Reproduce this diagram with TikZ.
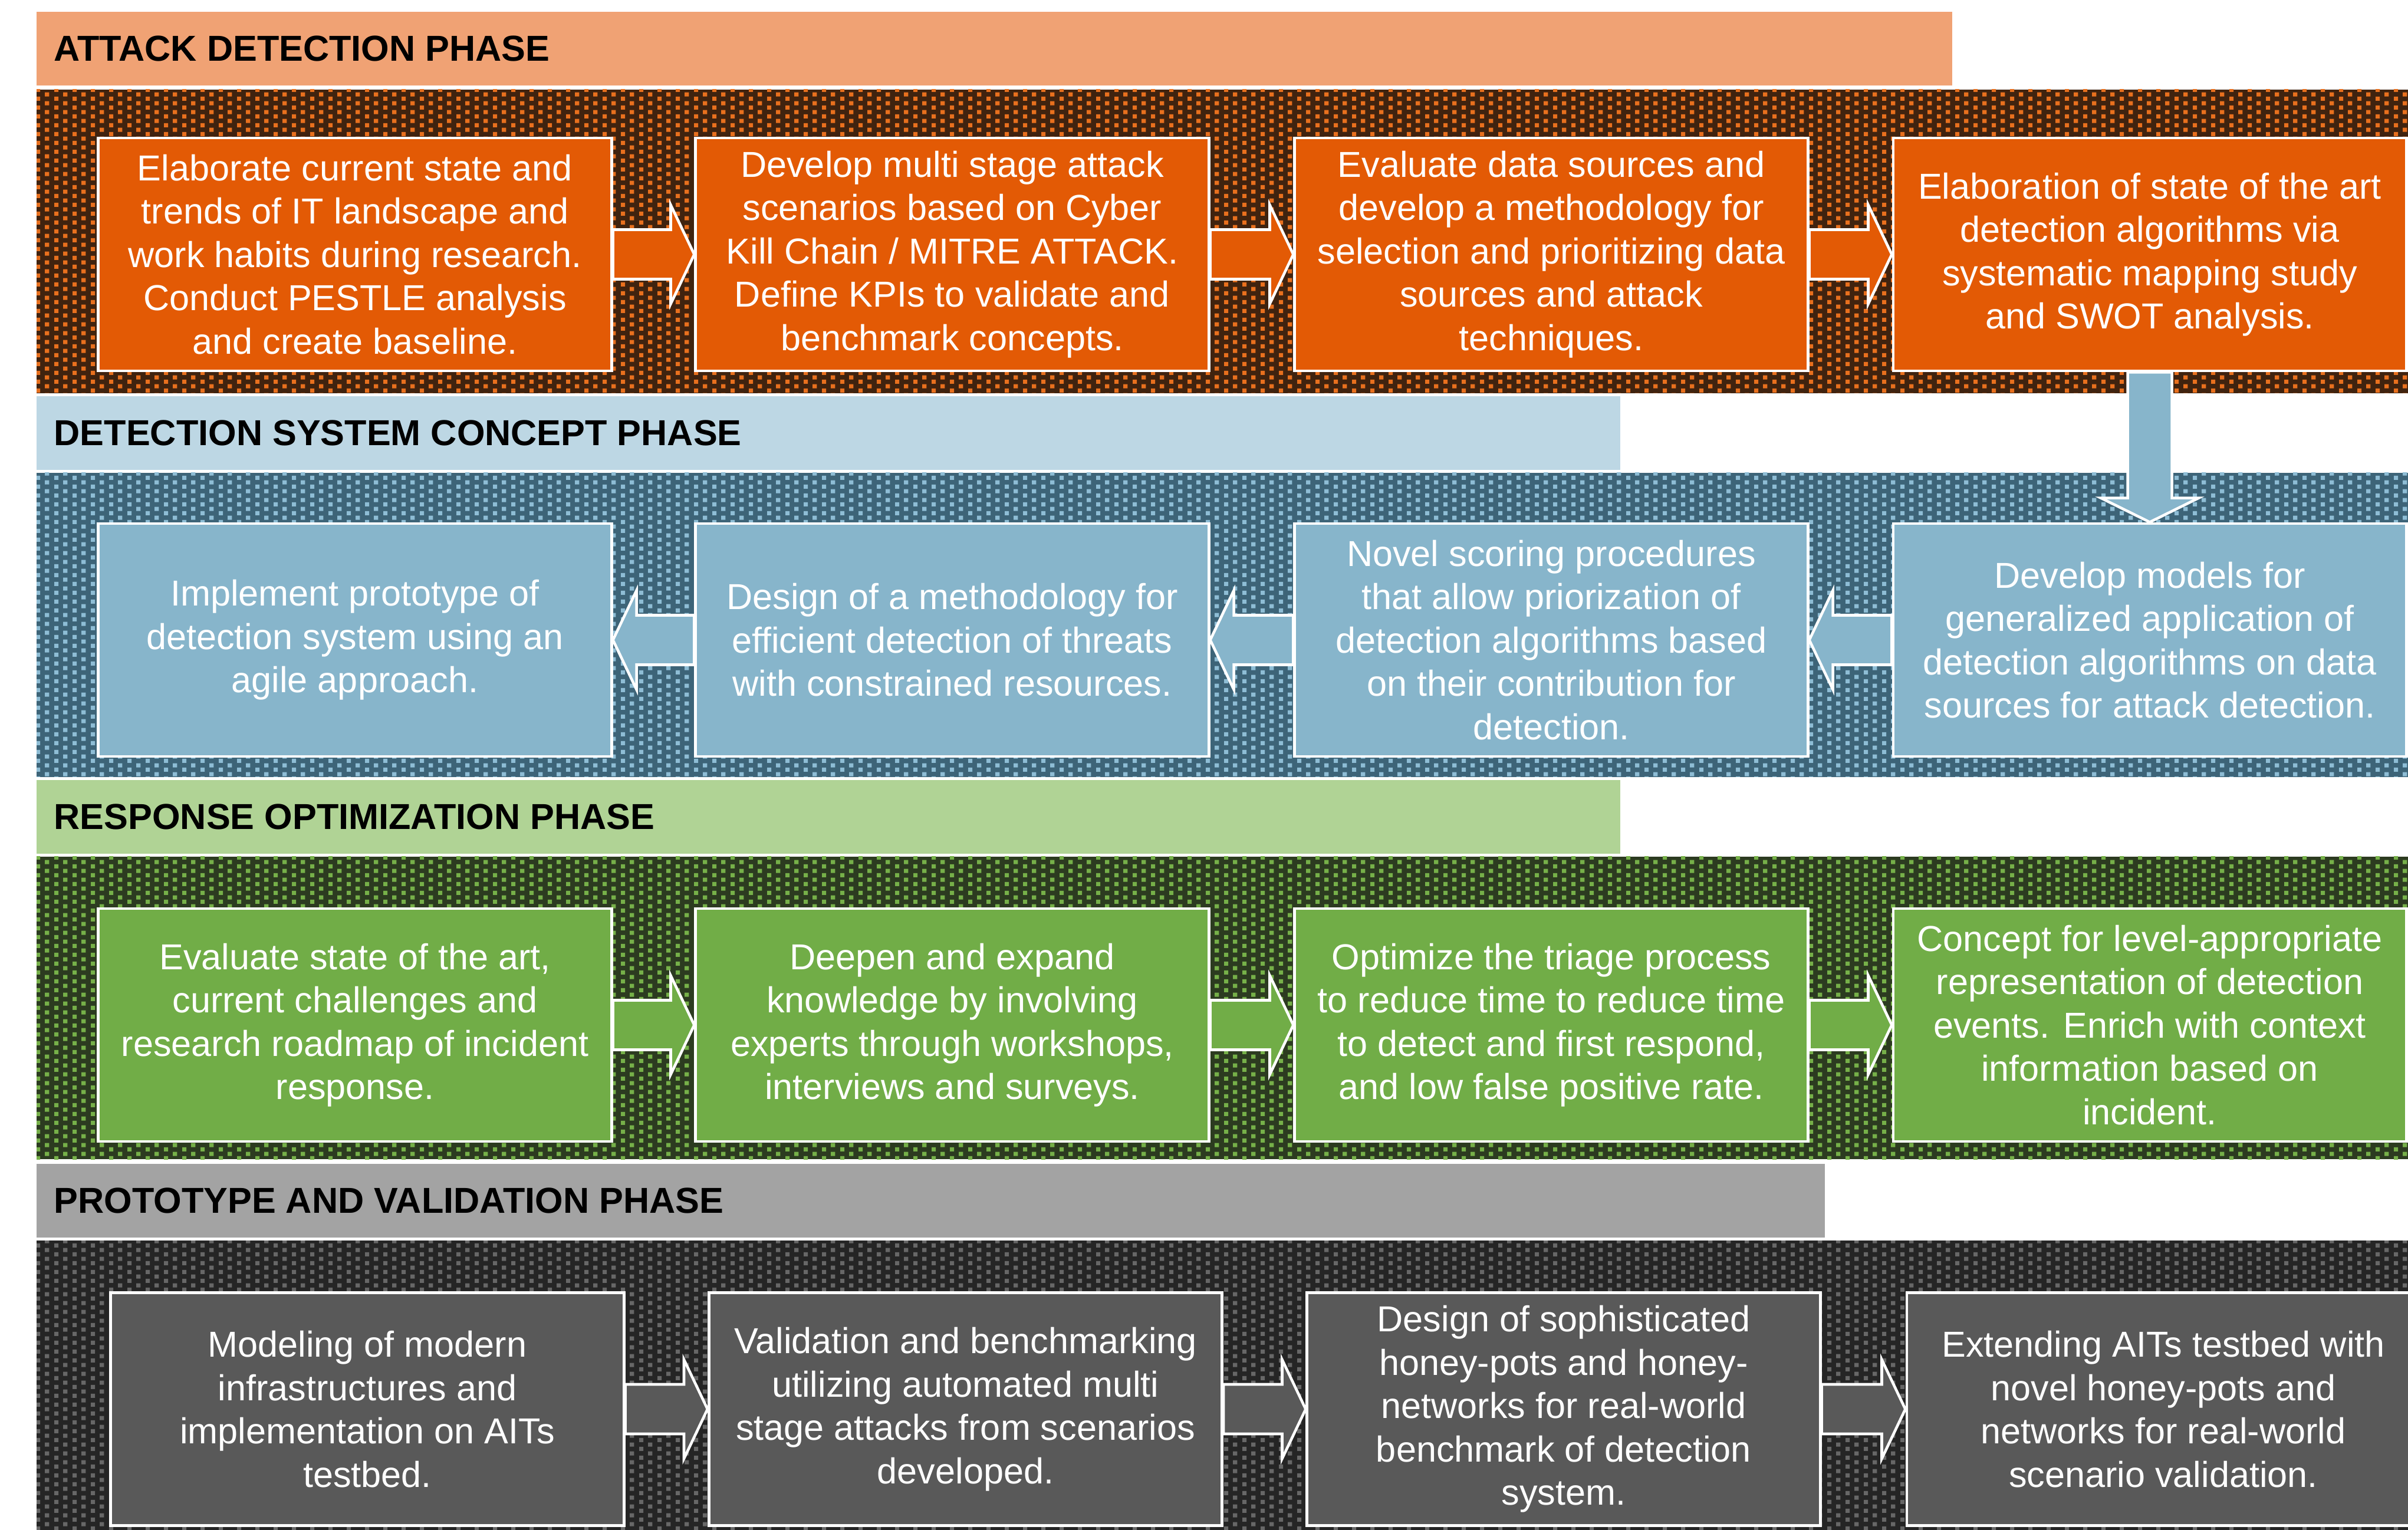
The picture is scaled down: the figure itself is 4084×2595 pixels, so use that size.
\documentclass[tikz,border=0pt]{standalone}
\usepackage{fontspec}
\setmainfont{Liberation Sans}
\usetikzlibrary{calc,patterns}

% small staggered square dots used for the phase backgrounds
\pgfdeclarepatternformonly{checkdots}{\pgfpointorigin}{\pgfpoint{8.71pt}{4.355pt}}{\pgfpoint{8.71pt}{4.355pt}}{%
  \pgfpathrectangle{\pgfpointorigin}{\pgfpoint{2.08pt}{2.08pt}}%
  \pgfpathrectangle{\pgfpoint{4.355pt}{2.18pt}}{\pgfpoint{2.08pt}{2.08pt}}%
  \pgfusepath{fill}}

% attack detection (orange)
\definecolor{orBand}{HTML}{F0A274}
\definecolor{orBox}{HTML}{E35A05}
\definecolor{orDark}{HTML}{40230F}
\definecolor{orDot}{HTML}{E8701E}
% detection system concept (blue)
\definecolor{blBand}{HTML}{BDD7E4}
\definecolor{blBox}{HTML}{87B5CB}
\definecolor{blDark}{HTML}{3D6478}
\definecolor{blDot}{HTML}{8EBDD5}
% response optimization (green)
\definecolor{grBand}{HTML}{B0D395}
\definecolor{grBox}{HTML}{71AD47}
\definecolor{grDark}{HTML}{2C3B20}
\definecolor{grDot}{HTML}{76B049}
% prototype and validation (gray)
\definecolor{gyBand}{HTML}{A3A3A3}
\definecolor{gyBox}{HTML}{595959}
\definecolor{gyDark}{HTML}{252525}
\definecolor{gyDot}{HTML}{676767}

% block arrows between named boxes
\newcommand{\arrowRight}[3]{%
  \draw[flowarrow, fill=#3] ($(#1.east)+(0,-42)$) -- ($(#2.west)+(-40,-42)$)
    -- ($(#2.west)+(-40,-84)$) -- (#2.west) -- ($(#2.west)+(-40,84)$)
    -- ($(#2.west)+(-40,42)$) -- ($(#1.east)+(0,42)$) -- cycle;}
\newcommand{\arrowLeft}[3]{%
  \draw[flowarrow, fill=#3] ($(#1.west)+(0,-42)$) -- ($(#2.east)+(40,-42)$)
    -- ($(#2.east)+(40,-84)$) -- (#2.east) -- ($(#2.east)+(40,84)$)
    -- ($(#2.east)+(40,42)$) -- ($(#1.west)+(0,42)$) -- cycle;}
\newcommand{\arrowDown}[3]{%
  \draw[flowarrow, fill=#3] ($(#1.south)+(-37.5,0)$) -- ($(#2.north)+(-37.5,-41)$)
    -- ($(#2.north)+(-83,-41)$) -- (#2.north) -- ($(#2.north)+(83,-41)$)
    -- ($(#2.north)+(37.5,-41)$) -- ($(#1.south)+(37.5,0)$) -- cycle;}

\begin{document}
\begin{tikzpicture}[x=0.01cm, y=-0.01cm,
  stepbox/.style={draw=white, line width=1.3pt, minimum width=8.7cm,
    minimum height=3.95cm, inner sep=0pt, align=center, text=white,
    font=\fontsize{17.4}{20.9}\selectfont},
  phasetitle/.style={anchor=west, inner sep=0pt, text=black,
    font=\fontsize{17.4}{20.9}\selectfont\bfseries},
  flowarrow/.style={draw=white, line width=1.3pt, line join=miter}]
\useasboundingbox (0,0) rectangle (4084,2595);
\clip (0,0) rectangle (4084,2595);
\fill[white] (0,0) rectangle (4084,2595);

% ---------- phase bands and dotted backgrounds ----------
\fill[orBand] (62,20) rectangle (3311,145);
\node[phasetitle] (t1) at (91,82.5) {ATTACK DETECTION PHASE};
\fill[orDark] (62,152) rectangle (4084,667);
\fill[pattern=checkdots, pattern color=orDot] (62,152) rectangle (4084,667);

\fill[blBand] (62,672) rectangle (2748,797);
\node[phasetitle] (t2) at (91,734.5) {DETECTION SYSTEM CONCEPT PHASE};
\fill[blDark] (62,802) rectangle (4084,1318);
\fill[pattern=checkdots, pattern color=blDot] (62,802) rectangle (4084,1318);

\fill[grBand] (62,1323) rectangle (2748,1448);
\node[phasetitle] (t3) at (91,1385.5) {RESPONSE OPTIMIZATION PHASE};
\fill[grDark] (62,1453) rectangle (4084,1966);
\fill[pattern=checkdots, pattern color=grDot] (62,1453) rectangle (4084,1966);

\fill[gyBand] (62,1974) rectangle (3095,2099);
\node[phasetitle] (t4) at (91,2036.5) {PROTOTYPE AND VALIDATION PHASE};
\fill[gyDark] (62,2104) rectangle (4084,2595);
\fill[pattern=checkdots, pattern color=gyDot] (62,2104) rectangle (4084,2595);

% ---------- attack detection ----------
\node[stepbox, fill=orBox] (a1) at (602,431.5) {Elaborate current state and\\trends of IT landscape and\\work habits during research.\\Conduct PESTLE analysis\\and create baseline.};
\node[stepbox, fill=orBox] (a2) at (1615,431.5) {Develop multi stage attack\\scenarios based on Cyber\\Kill Chain / MITRE ATTACK.\\Define KPIs to validate and\\benchmark concepts.};
\node[stepbox, fill=orBox] (a3) at (2631,431.5) {Evaluate data sources and\\develop a methodology for\\selection and prioritizing data\\sources and attack\\techniques.};
\node[stepbox, fill=orBox] (a4) at (3646,431.5) {Elaboration of state of the art\\detection algorithms via\\systematic mapping study\\and SWOT analysis.};

% ---------- detection system concept ----------
\node[stepbox, fill=blBox] (b1) at (602,1085.5) {Implement prototype of\\detection system using an\\agile approach.};
\node[stepbox, fill=blBox] (b2) at (1615,1085.5) {Design of a methodology for\\efficient detection of threats\\with constrained resources.};
\node[stepbox, fill=blBox] (b3) at (2631,1085.5) {Novel scoring procedures\\that allow priorization of\\detection algorithms based\\on their contribution for\\detection.};
\node[stepbox, fill=blBox] (b4) at (3646,1085.5) {Develop models for\\generalized application of\\detection algorithms on data\\sources for attack detection.};

% ---------- response optimization ----------
\node[stepbox, fill=grBox] (c1) at (602,1738.5) {Evaluate state of the art,\\current challenges and\\research roadmap of incident\\response.};
\node[stepbox, fill=grBox] (c2) at (1615,1738.5) {Deepen and expand\\knowledge by involving\\experts through workshops,\\interviews and surveys.};
\node[stepbox, fill=grBox] (c3) at (2631,1738.5) {Optimize the triage process\\to reduce time to reduce time\\to detect and first respond,\\and low false positive rate.};
\node[stepbox, fill=grBox] (c4) at (3646,1738.5) {Concept for level-appropriate\\representation of detection\\events. Enrich with context\\information based on\\incident.};

% ---------- prototype and validation ----------
\node[stepbox, fill=gyBox] (d1) at (623,2390) {Modeling of modern\\infrastructures and\\implementation on AITs\\testbed.};
\node[stepbox, fill=gyBox] (d2) at (1637.5,2390) {Validation and benchmarking\\utilizing automated multi\\stage attacks from scenarios\\developed.};
\node[stepbox, fill=gyBox] (d3) at (2652,2390) {Design of sophisticated\\honey-pots and honey-\\networks for real-world\\benchmark of detection\\system.};
\node[stepbox, fill=gyBox] (d4) at (3669,2390) {Extending AITs testbed with\\novel honey-pots and\\networks for real-world\\scenario validation.};

% ---------- flow ----------
\arrowRight{a1}{a2}{orBox}
\arrowRight{a2}{a3}{orBox}
\arrowRight{a3}{a4}{orBox}
\arrowDown{a4}{b4}{blBox}
\arrowLeft{b4}{b3}{blBox}
\arrowLeft{b3}{b2}{blBox}
\arrowLeft{b2}{b1}{blBox}
\arrowRight{c1}{c2}{grBox}
\arrowRight{c2}{c3}{grBox}
\arrowRight{c3}{c4}{grBox}
\arrowRight{d1}{d2}{gyBox}
\arrowRight{d2}{d3}{gyBox}
\arrowRight{d3}{d4}{gyBox}
\end{tikzpicture}
\end{document}
